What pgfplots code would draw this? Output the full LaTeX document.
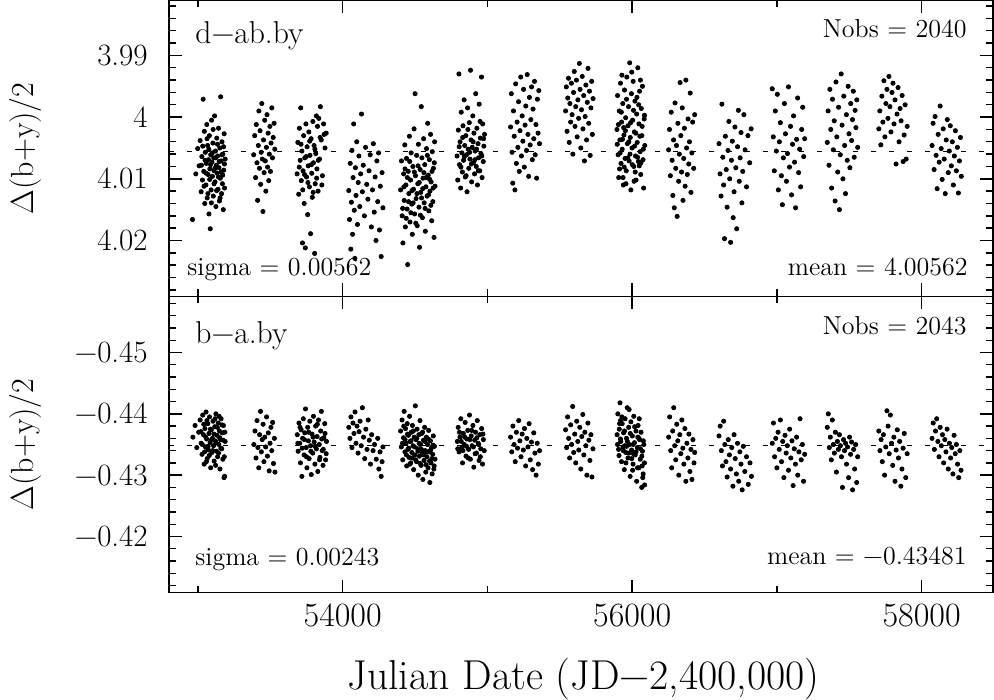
\documentclass[border=0pt]{standalone}
\usepackage{pgfplots}
\pgfplotsset{compat=1.18}
\tikzset{
  ann/.style={inner sep=0pt, font=\fontsize{13}{15}\selectfont},
  lab/.style={inner sep=0pt, font=\fontsize{15.8}{18}\selectfont},
}
\pgfplotsset{
  panel/.style={
    scale only axis, width=411.85pt, height=148pt,
    xmin=52802, xmax=58493, y dir=reverse,
    scaled x ticks=false, scaled y ticks=false,
    xtick={54000,56000,58000}, minor xtick={53000,55000,57000},
    tick align=inside, tick pos=both,
    major tick length=6.5pt, minor tick length=3.5pt,
    axis line style={line width=0.9pt},
    every tick/.style={black, line width=0.7pt},
    yticklabel style={font=\fontsize{15.5}{18}\selectfont, inner xsep=0pt, xshift=-10.6pt},
    xticklabel style={font=\fontsize{17}{20}\selectfont, inner ysep=0pt, yshift=-5.5pt},
    clip=false,
  },
  dots/.style={only marks, mark=*, mark size=1.05pt, black, mark options={draw=none, fill=black}},
  meanline/.style={black, line width=0.6pt, dash pattern=on 2.5pt off 6.5pt},
}
\begin{document}
\begin{tikzpicture}
% ---------------- top panel ----------------
\begin{axis}[panel, at={(0,148pt)}, anchor=south west,
  ymin=3.98109, ymax=4.02908,
  ytick={3.99,4,4.01,4.02}, yticklabels={3.99,4,4.01,4.02},
  minor ytick={3.982,3.984,3.986,3.988,3.992,3.994,3.996,3.998,4.002,4.004,4.006,4.008,4.012,4.014,4.016,4.018,4.022,4.024,4.026,4.028},
  xticklabels={}]
\addplot[meanline] coordinates {(52802,4.00562) (58493,4.00562)};
\addplot[dots] table {
52962 4.0166
52985 4.0092
52998 4.0051
53008 4.0079
53015 4.0038
53022 4.0121
53027 4.0064
53031 4.0102
53036 3.9971
53040 4.0088
53044 4.0023
53047 4.0140
53051 4.0057
53055 4.0110
53058 4.0075
53061 4.0012
53064 4.0131
53067 4.0046
53070 4.0093
53073 4.0069
53076 4.0157
53079 4.0030
53082 4.0084
53085 4.0181
53088 4.0061
53091 4.0118
53094 4.0005
53097 4.0073
53100 4.0096
53103 4.0042
53106 4.0128
53109 4.0066
53112 4.0087
53115 3.9998
53118 4.0105
53121 4.0055
53124 4.0145
53127 4.0078
53130 4.0034
53133 4.0091
53136 4.0063
53139 4.0117
53142 4.0018
53145 4.0082
53148 4.0136
53151 4.0050
53154 4.0099
53157 3.9967
53160 4.0071
53163 4.0124
53166 4.0040
53169 4.0108
53172 4.0060
53175 4.0150
53178 4.0086
53181 4.0027
53184 4.0115
53188 4.0068
53024 4.0078
53033 4.0047
53042 4.0112
53049 4.0070
53057 4.0091
53063 4.0035
53069 4.0124
53075 4.0052
53081 4.0101
53087 4.0077
53093 4.0139
53099 4.0058
53105 4.0020
53111 4.0108
53117 4.0083
53123 4.0066
53129 4.0119
53135 4.0044
53141 4.0097
53147 4.0072
53153 4.0131
53159 4.0089
53165 4.0061
53171 4.0094
53177 4.0048
53183 4.0076
53385 4.0061
53392 4.0030
53398 4.0098
53403 4.0012
53408 4.0074
53412 4.0135
53417 4.0046
53421 3.9990
53425 4.0083
53429 4.0022
53433 4.0109
53437 4.0057
53441 3.9978
53445 4.0068
53449 4.0153
53453 4.0037
53457 4.0090
53461 4.0005
53465 4.0071
53469 4.0120
53473 4.0049
53477 3.9996
53481 4.0081
53485 4.0026
53489 4.0103
53493 4.0060
53497 4.0015
53501 4.0088
53505 4.0042
53510 3.9985
53515 4.0066
53520 4.0033
53526 4.0010
53531 4.0052
53685 4.0092
53690 4.0041
53696 4.0125
53701 4.0018
53706 4.0070
53710 3.9985
53714 4.0103
53718 4.0055
53722 4.0204
53726 4.0087
53730 4.0030
53734 4.0140
53738 4.0066
53742 4.0212
53746 4.0011
53750 4.0097
53754 4.0048
53758 4.0158
53762 4.0079
53766 4.0024
53770 4.0113
53774 4.0062
53778 4.0189
53782 4.0035
53786 4.0091
53790 4.0130
53794 4.0007
53798 4.0074
53802 4.0046
53806 4.0221
53810 4.0108
53814 4.0059
53818 3.9998
53822 4.0084
53826 4.0015
53830 4.0120
53835 4.0002
53840 4.0068
53846 3.9983
53852 4.0037
53860 4.0095
53868 4.0011
53878 4.0050
53886 4.0026
53700 4.0081
53712 4.0044
53724 4.0118
53736 4.0093
53748 4.0064
53760 4.0106
53772 4.0039
53784 4.0077
53796 4.0122
53808 4.0052
53820 4.0099
53832 4.0070
53844 4.0033
53856 4.0110
53872 4.0028
54042 4.0119
54047 4.0166
54052 4.0075
54056 4.0214
54060 4.0138
54064 4.0054
54068 4.0190
54072 4.0098
54076 4.0011
54080 4.0151
54084 4.0229
54088 4.0082
54092 4.0127
54097 4.0040
54102 4.0174
54107 4.0106
54112 4.0063
54118 4.0145
54124 4.0092
54130 3.9995
54136 4.0121
54142 4.0078
54150 4.0160
54158 4.0049
54166 4.0109
54174 4.0133
54182 4.0087
54190 4.0061
54198 4.0178
54206 4.0118
54212 4.0043
54218 4.0154
54224 4.0097
54230 4.0200
54236 4.0071
54242 4.0137
54248 4.0058
54254 4.0183
54260 4.0112
54266 4.0226
54272 4.0090
54278 4.0147
54400 4.0118
54406 4.0071
54411 4.0160
54416 4.0204
54421 4.0092
54425 4.0135
54429 4.0045
54433 4.0178
54437 4.0110
54441 4.0067
54445 4.0149
54449 4.0239
54453 4.0088
54457 4.0124
54461 4.0031
54465 4.0170
54469 4.0102
54473 4.0058
54477 4.0141
54481 4.0190
54485 4.0080
54489 4.0117
54493 4.0019
54497 4.0157
54500 3.9962
54503 4.0095
54507 4.0132
54511 4.0062
54515 4.0176
54519 4.0108
54523 4.0044
54527 4.0146
54531 4.0211
54535 4.0085
54539 4.0122
54543 3.9983
54547 4.0066
54551 4.0163
54555 4.0099
54559 4.0035
54563 4.0139
54567 4.0077
54571 4.0185
54575 4.0113
54579 4.0051
54583 4.0128
54587 4.0010
54591 4.0094
54595 4.0152
54599 4.0069
54603 4.0120
54607 4.0028
54611 4.0105
54615 4.0168
54619 4.0056
54623 4.0137
54627 4.0083
54631 4.0195
54635 4.0040
54638 4.0112
54414 4.0148
54423 4.0113
54431 4.0084
54439 4.0164
54447 4.0098
54455 4.0137
54463 4.0072
54471 4.0155
54479 4.0119
54487 4.0139
54495 4.0089
54505 4.0172
54513 4.0124
54521 4.0079
54529 4.0106
54537 4.0159
54545 4.0131
54553 4.0116
54561 4.0090
54569 4.0148
54577 4.0098
54585 4.0062
54593 4.0126
54601 4.0101
54609 4.0143
54617 4.0088
54625 4.0115
54633 4.0074
54790 4.0063
54795 4.0102
54799 4.0021
54803 3.9930
54807 4.0077
54811 4.0040
54815 4.0115
54819 3.9992
54823 4.0058
54827 4.0089
54831 4.0014
54835 4.0070
54839 3.9972
54843 4.0046
54847 4.0097
54851 4.0030
54855 4.0061
54859 4.0121
54863 3.9985
54867 4.0052
54871 4.0083
54875 4.0009
54879 4.0068
54883 3.9924
54887 4.0037
54891 4.0105
54895 4.0049
54899 3.9998
54903 4.0074
54907 4.0026
54911 4.0092
54915 4.0055
54919 3.9962
54923 4.0080
54927 4.0018
54931 4.0110
54935 4.0043
54939 4.0066
54943 3.9979
54947 4.0087
54951 4.0034
54955 4.0059
54959 3.9935
54963 4.0098
54967 4.0011
54971 4.0072
54975 4.0047
54980 4.0028
54805 4.0048
54817 4.0081
54829 4.0033
54841 4.0064
54853 4.0095
54865 4.0020
54877 4.0057
54889 4.0076
54901 4.0040
54913 4.0069
54925 4.0052
54937 4.0087
54949 4.0007
54961 4.0063
54973 4.0035
55160 4.0016
55165 3.9962
55170 4.0057
55175 4.0107
55180 3.9990
55185 4.0031
55190 4.0118
55195 3.9946
55200 4.0075
55205 4.0008
55210 4.0049
55215 3.9975
55220 4.0088
55225 4.0022
55230 3.9935
55235 4.0063
55240 3.9998
55245 4.0039
55250 3.9955
55255 4.0081
55260 4.0013
55265 3.9982
55270 4.0054
55275 3.9931
55280 4.0028
55285 4.0096
55290 3.9968
55295 4.0045
55300 4.0004
55305 3.9951
55310 4.0069
55315 3.9987
55320 4.0035
55325 3.9942
55330 4.0061
55335 4.0012
55340 4.0099
55345 3.9971
55350 4.0026
55355 3.9957
55360 4.0043
55540 3.9990
55545 3.9951
55550 4.0023
55555 3.9969
55560 3.9937
55565 4.0041
55570 3.9978
55575 4.0008
55580 3.9945
55585 3.9996
55590 4.0060
55595 3.9960
55600 3.9926
55605 4.0015
55610 3.9983
55615 3.9940
55620 4.0032
55625 3.9972
55630 4.0002
55635 3.9913
55640 3.9955
55645 4.0050
55650 3.9988
55655 3.9934
55660 4.0019
55665 3.9965
55670 4.0071
55675 3.9999
55680 3.9948
55685 4.0037
55690 3.9976
55695 3.9921
55700 4.0010
55705 3.9958
55710 4.0062
55715 3.9985
55720 3.9942
55725 4.0028
55730 3.9970
55895 4.0020
55899 3.9965
55903 4.0061
55907 4.0098
55911 3.9990
55915 4.0037
55919 3.9945
55923 4.0075
55927 4.0008
55931 4.0052
55935 3.9978
55939 4.0110
55943 4.0029
55947 3.9956
55951 4.0067
55955 4.0001
55959 4.0087
55963 3.9935
55967 4.0043
55971 4.0014
55975 3.9983
55979 4.0071
55983 3.9912
55987 4.0033
55991 4.0118
55995 3.9962
55999 4.0050
56003 4.0005
56007 3.9942
56011 4.0080
56015 4.0024
56019 3.9974
56023 4.0063
56027 4.0102
56031 3.9995
56035 4.0041
56039 3.9920
56043 4.0072
56047 4.0011
56051 3.9958
56055 4.0056
56059 4.0093
56063 3.9986
56067 4.0030
56071 3.9950
56075 4.0069
56079 4.0115
56083 4.0003
56087 4.0046
55929 3.9932
55957 4.0108
55997 3.9927
56021 4.0089
56049 4.0079
55913 4.0084
55941 4.0017
55985 4.0060
56033 3.9968
55897 4.0044
55905 4.0012
55917 4.0058
55925 3.9992
55933 4.0036
55945 4.0081
55953 4.0022
55961 3.9971
55969 4.0066
55977 4.0040
55989 4.0009
56001 4.0077
56009 3.9989
56017 4.0047
56025 4.0026
56037 4.0065
56045 3.9980
56053 4.0031
56061 4.0074
56069 4.0015
56077 4.0052
56085 3.9997
55937 4.0098
56013 4.0104
56057 3.9940
56252 4.0053
56258 4.0020
56264 4.0095
56270 3.9992
56276 4.0070
56281 4.0127
56286 4.0037
56291 4.0147
56296 3.9977
56301 4.0083
56306 4.0046
56311 4.0161
56316 4.0010
56321 4.0104
56326 4.0060
56331 3.9944
56336 4.0030
56341 4.0089
56346 3.9985
56351 4.0135
56356 4.0067
56361 4.0018
56366 4.0112
56371 3.9940
56376 4.0050
56381 4.0093
56386 4.0003
56391 4.0076
56396 4.0040
56401 3.9961
56406 4.0122
56412 4.0058
56418 4.0008
56425 4.0083
56432 3.9996
56600 4.0043
56607 4.0092
56614 4.0128
56620 3.9979
56626 4.0065
56632 4.0110
56638 4.0197
56644 4.0031
56650 4.0085
56656 4.0146
56662 4.0054
56668 4.0007
56674 4.0100
56680 4.0203
56686 4.0070
56692 4.0039
56698 4.0163
56704 4.0121
56710 4.0016
56716 4.0082
56722 4.0181
56728 4.0048
56734 3.9989
56740 4.0104
56746 4.0066
56752 4.0025
56758 4.0139
56764 4.0088
56772 3.9996
56780 4.0053
56790 4.0113
56800 4.0030
56812 4.0074
56822 4.0019
56968 3.9954
56975 4.0032
56982 4.0087
56989 3.9990
56996 4.0055
57003 3.9963
57010 4.0118
57017 4.0040
57024 4.0009
57031 4.0095
57038 4.0142
57045 4.0066
57052 3.9978
57059 4.0027
57066 4.0104
57073 4.0059
57080 3.9951
57087 4.0081
57094 4.0015
57101 4.0126
57108 4.0044
57115 3.9998
57122 4.0073
57129 4.0147
57136 4.0036
57143 3.9969
57150 4.0090
57157 4.0052
57164 4.0113
57171 4.0020
57178 3.9984
57185 4.0064
57192 4.0035
57348 4.0041
57354 3.9990
57360 4.0078
57366 3.9955
57372 4.0020
57378 4.0115
57384 3.9971
57390 4.0053
57396 4.0006
57402 4.0136
57408 3.9943
57414 4.0032
57420 4.0089
57426 3.9984
57432 4.0150
57438 4.0061
57444 3.9930
57450 4.0013
57456 4.0100
57462 3.9966
57468 4.0046
57474 4.0124
57480 3.9996
57486 4.0070
57492 3.9950
57498 4.0027
57504 4.0082
57510 3.9978
57516 4.0038
57522 4.0004
57528 3.9958
57534 4.0065
57540 3.9989
57546 4.0017
57552 3.9972
57558 4.0049
57704 4.0019
57711 3.9990
57718 4.0045
57725 3.9966
57732 4.0008
57739 3.9941
57746 4.0032
57753 3.9978
57760 3.9955
57767 4.0002
57774 3.9934
57781 3.9983
57788 4.0024
57795 3.9960
57802 3.9945
57809 4.0011
57816 3.9972
57823 4.0076
57830 3.9995
57837 3.9952
57844 4.0040
57851 3.9986
57858 4.0006
57865 3.9965
57872 4.0072
57879 4.0029
57886 3.9980
57893 4.0068
57900 4.0015
58072 4.0046
58079 4.0010
58086 4.0085
58093 3.9999
58100 4.0062
58107 4.0116
58114 4.0028
58121 4.0073
58128 3.9982
58135 4.0051
58142 4.0101
58149 4.0019
58156 4.0068
58163 4.0124
58170 4.0037
58177 4.0004
58184 4.0090
58191 4.0055
58198 4.0014
58205 4.0079
58212 4.0040
58219 4.0110
58226 4.0063
58233 4.0022
58240 4.0087
58247 4.0049
58254 4.0123
58261 4.0071
58268 4.0033
58274 4.0096
};
\node[lab, anchor=base west] at (rel axis cs:0.0312,0.855) {d−ab.by};
\node[ann, anchor=base east] at (rel axis cs:0.9684,0.875) {Nobs = 2040};
\node[ann, anchor=base west] at (rel axis cs:0.0215,0.071) {sigma = 0.00562};
\node[ann, anchor=base east] at (rel axis cs:0.9696,0.071) {mean = 4.00562};
\node[rotate=90, anchor=center, inner sep=0pt, font=\fontsize{16}{18}\selectfont] at (rel axis cs:-0.174,0.5) {Δ(b+y)/2};
\end{axis}
% ---------------- bottom panel ----------------
\begin{axis}[panel, at={(0,0)}, anchor=south west,
  ymin=-0.45914, ymax=-0.41086,
  ytick={-0.45,-0.44,-0.43,-0.42}, yticklabels={−0.45,−0.44,−0.43,−0.42},
  minor ytick={-0.458,-0.456,-0.454,-0.452,-0.448,-0.446,-0.444,-0.442,-0.438,-0.436,-0.434,-0.432,-0.428,-0.426,-0.424,-0.422,-0.418,-0.416,-0.414,-0.412},
  xticklabels={54000,56000,58000}]
\addplot[meanline] coordinates {(52802,-0.43481) (58493,-0.43481)};
\addplot[dots] table {
52965 -0.4362
52980 -0.4381
52992 -0.4345
53005 -0.4370
53015 -0.4390
53022 -0.4352
53028 -0.4334
53033 -0.4398
53038 -0.4366
53043 -0.4318
53048 -0.4376
53052 -0.4346
53056 -0.4403
53060 -0.4359
53064 -0.4327
53068 -0.4384
53072 -0.4341
53076 -0.4368
53080 -0.4395
53084 -0.4353
53088 -0.4312
53092 -0.4374
53096 -0.4337
53100 -0.4360
53104 -0.4388
53108 -0.4348
53112 -0.4323
53116 -0.4379
53120 -0.4356
53124 -0.4400
53128 -0.4339
53132 -0.4365
53136 -0.4330
53140 -0.4385
53144 -0.4350
53148 -0.4372
53152 -0.4310
53156 -0.4358
53160 -0.4392
53164 -0.4343
53168 -0.4369
53172 -0.4326
53176 -0.4381
53180 -0.4296
53184 -0.4298
53188 -0.4355
53020 -0.4371
53030 -0.4350
53040 -0.4383
53046 -0.4338
53054 -0.4362
53062 -0.4389
53070 -0.4347
53078 -0.4332
53086 -0.4375
53094 -0.4358
53102 -0.4340
53110 -0.4367
53118 -0.4392
53126 -0.4353
53134 -0.4378
53142 -0.4336
53150 -0.4361
53158 -0.4344
53166 -0.4382
53174 -0.4357
53182 -0.4330
53186 -0.4370
53058 -0.4322
53122 -0.4316
53146 -0.4396
53386 -0.4350
53394 -0.4372
53401 -0.4328
53408 -0.4389
53414 -0.4345
53420 -0.4312
53426 -0.4366
53432 -0.4404
53438 -0.4338
53444 -0.4358
53450 -0.4383
53456 -0.4322
53462 -0.4362
53468 -0.4346
53474 -0.4395
53480 -0.4331
53486 -0.4369
53492 -0.4307
53498 -0.4352
53504 -0.4378
53510 -0.4340
53516 -0.4386
53522 -0.4319
53528 -0.4360
53532 -0.4305
53686 -0.4366
53692 -0.4339
53698 -0.4385
53703 -0.4352
53708 -0.4320
53713 -0.4374
53718 -0.4298
53723 -0.4360
53728 -0.4392
53733 -0.4333
53738 -0.4369
53743 -0.4408
53748 -0.4345
53753 -0.4312
53758 -0.4378
53763 -0.4356
53768 -0.4327
53773 -0.4388
53778 -0.4348
53783 -0.4301
53788 -0.4367
53793 -0.4336
53798 -0.4396
53803 -0.4354
53808 -0.4318
53813 -0.4380
53818 -0.4343
53823 -0.4363
53828 -0.4306
53833 -0.4390
53838 -0.4350
53843 -0.4329
53848 -0.4372
53853 -0.4404
53858 -0.4340
53864 -0.4316
53870 -0.4361
53876 -0.4384
53882 -0.4325
53888 -0.4355
53690 -0.4352
53705 -0.4378
53720 -0.4344
53735 -0.4358
53750 -0.4330
53765 -0.4370
53780 -0.4339
53795 -0.4362
53810 -0.4347
53825 -0.4383
53840 -0.4325
53855 -0.4359
53866 -0.4342
53878 -0.4368
53886 -0.4335
54042 -0.4378
54050 -0.4360
54057 -0.4395
54064 -0.4345
54071 -0.4385
54078 -0.4368
54085 -0.4403
54092 -0.4352
54099 -0.4380
54106 -0.4336
54113 -0.4371
54120 -0.4388
54128 -0.4348
54136 -0.4410
54144 -0.4362
54152 -0.4327
54160 -0.4375
54168 -0.4342
54176 -0.4390
54184 -0.4357
54192 -0.4318
54200 -0.4366
54210 -0.4340
54220 -0.4350
54232 -0.4326
54242 -0.4360
54250 -0.4310
54258 -0.4338
54266 -0.4298
54272 -0.4322
54278 -0.4346
54400 -0.4372
54405 -0.4346
54410 -0.4390
54415 -0.4325
54420 -0.4361
54425 -0.4404
54430 -0.4338
54434 -0.4376
54438 -0.4352
54442 -0.4315
54446 -0.4384
54450 -0.4342
54454 -0.4365
54458 -0.4329
54462 -0.4396
54466 -0.4355
54470 -0.4320
54474 -0.4370
54478 -0.4337
54482 -0.4381
54486 -0.4348
54490 -0.4309
54494 -0.4362
54498 -0.4333
54502 -0.4413
54506 -0.4358
54510 -0.4322
54514 -0.4375
54518 -0.4343
54522 -0.4300
54526 -0.4366
54530 -0.4331
54534 -0.4389
54538 -0.4350
54542 -0.4316
54546 -0.4368
54550 -0.4336
54554 -0.4293
54558 -0.4357
54562 -0.4324
54566 -0.4378
54570 -0.4340
54574 -0.4305
54578 -0.4362
54582 -0.4330
54586 -0.4350
54590 -0.4312
54594 -0.4373
54598 -0.4338
54602 -0.4288
54606 -0.4356
54610 -0.4320
54614 -0.4345
54618 -0.4302
54622 -0.4334
54626 -0.4364
54630 -0.4310
54634 -0.4347
54638 -0.4326
54413 -0.4352
54422 -0.4380
54431 -0.4358
54440 -0.4333
54448 -0.4367
54456 -0.4344
54464 -0.4318
54472 -0.4356
54480 -0.4328
54488 -0.4372
54496 -0.4346
54504 -0.4325
54512 -0.4360
54520 -0.4339
54528 -0.4352
54536 -0.4319
54544 -0.4342
54552 -0.4370
54560 -0.4333
54568 -0.4355
54576 -0.4317
54584 -0.4338
54592 -0.4359
54600 -0.4323
54608 -0.4341
54616 -0.4327
54624 -0.4349
54632 -0.4315
54792 -0.4355
54798 -0.4378
54804 -0.4338
54810 -0.4362
54816 -0.4392
54822 -0.4345
54828 -0.4320
54834 -0.4368
54840 -0.4350
54846 -0.4386
54852 -0.4331
54858 -0.4359
54864 -0.4373
54870 -0.4342
54876 -0.4398
54882 -0.4326
54888 -0.4364
54894 -0.4348
54900 -0.4381
54906 -0.4313
54912 -0.4357
54918 -0.4370
54924 -0.4336
54930 -0.4389
54936 -0.4352
54942 -0.4324
54948 -0.4366
54954 -0.4343
54960 -0.4376
54966 -0.4318
54972 -0.4358
54978 -0.4340
54795 -0.4343
54807 -0.4370
54819 -0.4355
54831 -0.4340
54843 -0.4362
54855 -0.4347
54867 -0.4328
54879 -0.4358
54891 -0.4373
54903 -0.4346
54915 -0.4335
54927 -0.4361
54939 -0.4350
54951 -0.4330
54969 -0.4367
55160 -0.4362
55168 -0.4338
55176 -0.4380
55184 -0.4350
55192 -0.4322
55200 -0.4370
55208 -0.4344
55216 -0.4389
55224 -0.4356
55232 -0.4330
55240 -0.4367
55248 -0.4341
55256 -0.4376
55264 -0.4315
55272 -0.4360
55280 -0.4346
55288 -0.4384
55296 -0.4325
55304 -0.4354
55312 -0.4309
55320 -0.4369
55328 -0.4336
55336 -0.4300
55344 -0.4352
55352 -0.4318
55360 -0.4340
55540 -0.4374
55547 -0.4345
55554 -0.4395
55561 -0.4360
55568 -0.4328
55575 -0.4382
55582 -0.4350
55589 -0.4412
55596 -0.4337
55603 -0.4367
55610 -0.4320
55617 -0.4388
55624 -0.4355
55631 -0.4341
55638 -0.4378
55645 -0.4310
55652 -0.4363
55659 -0.4399
55666 -0.4333
55673 -0.4370
55680 -0.4348
55687 -0.4300
55694 -0.4385
55701 -0.4357
55708 -0.4324
55715 -0.4366
55722 -0.4297
55729 -0.4343
55896 -0.4366
55901 -0.4400
55906 -0.4342
55911 -0.4375
55916 -0.4418
55921 -0.4355
55926 -0.4322
55931 -0.4384
55936 -0.4346
55941 -0.4369
55946 -0.4309
55951 -0.4392
55956 -0.4337
55961 -0.4360
55966 -0.4410
55971 -0.4328
55976 -0.4378
55981 -0.4350
55986 -0.4298
55991 -0.4387
55996 -0.4341
56001 -0.4364
56006 -0.4318
56011 -0.4396
56016 -0.4353
56021 -0.4333
56026 -0.4372
56031 -0.4290
56036 -0.4345
56041 -0.4381
56046 -0.4312
56051 -0.4358
56056 -0.4326
56061 -0.4370
56066 -0.4280
56071 -0.4339
56076 -0.4302
56081 -0.4350
56086 -0.4284
55919 -0.4389
55949 -0.4348
55979 -0.4407
56009 -0.4335
56039 -0.4362
56069 -0.4315
55899 -0.4350
55909 -0.4332
55919 -0.4359
55929 -0.4395
55939 -0.4340
55947 -0.4372
55957 -0.4320
55967 -0.4355
55977 -0.4336
55987 -0.4368
55997 -0.4327
56007 -0.4350
56017 -0.4379
56027 -0.4338
56037 -0.4312
56047 -0.4360
56057 -0.4343
56067 -0.4331
56077 -0.4356
56085 -0.4320
55913 -0.4384
55961 -0.4347
56003 -0.4308
56049 -0.4392
56073 -0.4296
56252 -0.4362
56259 -0.4395
56266 -0.4340
56273 -0.4312
56280 -0.4372
56287 -0.4410
56294 -0.4348
56301 -0.4325
56308 -0.4383
56315 -0.4356
56322 -0.4300
56329 -0.4366
56336 -0.4335
56343 -0.4390
56350 -0.4344
56357 -0.4318
56364 -0.4376
56371 -0.4290
56378 -0.4352
56385 -0.4328
56392 -0.4367
56399 -0.4306
56406 -0.4342
56413 -0.4293
56420 -0.4358
56427 -0.4320
56432 -0.4337
56600 -0.4364
56608 -0.4380
56616 -0.4340
56624 -0.4315
56632 -0.4388
56640 -0.4350
56648 -0.4322
56656 -0.4297
56664 -0.4358
56672 -0.4333
56680 -0.4310
56688 -0.4345
56696 -0.4282
56704 -0.4366
56712 -0.4327
56720 -0.4302
56728 -0.4352
56736 -0.4290
56744 -0.4338
56752 -0.4318
56760 -0.4276
56768 -0.4347
56778 -0.4306
56790 -0.4330
56802 -0.4285
56814 -0.4320
56824 -0.4298
56968 -0.4352
56976 -0.4385
56984 -0.4330
56992 -0.4360
57000 -0.4312
57008 -0.4370
57016 -0.4342
57024 -0.4390
57032 -0.4322
57040 -0.4355
57048 -0.4296
57056 -0.4365
57064 -0.4336
57072 -0.4348
57080 -0.4308
57088 -0.4375
57096 -0.4328
57104 -0.4356
57112 -0.4283
57120 -0.4343
57128 -0.4318
57136 -0.4362
57144 -0.4300
57152 -0.4338
57160 -0.4392
57168 -0.4325
57176 -0.4350
57184 -0.4290
57192 -0.4334
57348 -0.4378
57355 -0.4400
57362 -0.4345
57369 -0.4362
57376 -0.4325
57383 -0.4390
57390 -0.4350
57397 -0.4336
57404 -0.4370
57411 -0.4305
57418 -0.4355
57425 -0.4342
57432 -0.4366
57439 -0.4348
57446 -0.4330
57453 -0.4280
57460 -0.4358
57467 -0.4340
57474 -0.4352
57481 -0.4318
57488 -0.4346
57495 -0.4296
57502 -0.4362
57509 -0.4334
57516 -0.4354
57523 -0.4276
57530 -0.4342
57537 -0.4310
57544 -0.4350
57551 -0.4288
57558 -0.4330
57704 -0.4372
57712 -0.4340
57720 -0.4358
57728 -0.4322
57736 -0.4366
57744 -0.4300
57752 -0.4346
57760 -0.4405
57768 -0.4380
57776 -0.4335
57784 -0.4398
57792 -0.4352
57800 -0.4316
57808 -0.4362
57816 -0.4290
57824 -0.4341
57832 -0.4374
57840 -0.4328
57848 -0.4355
57856 -0.4282
57864 -0.4310
57872 -0.4344
57880 -0.4368
57890 -0.4296
57900 -0.4335
58072 -0.4360
58080 -0.4385
58088 -0.4342
58096 -0.4372
58104 -0.4392
58112 -0.4355
58120 -0.4330
58128 -0.4378
58136 -0.4348
58144 -0.4366
58152 -0.4320
58160 -0.4358
58168 -0.4338
58176 -0.4375
58184 -0.4310
58192 -0.4352
58200 -0.4328
58208 -0.4345
58216 -0.4302
58224 -0.4365
58232 -0.4335
58240 -0.4350
58248 -0.4318
58256 -0.4296
58264 -0.4340
58272 -0.4308
};
\node[lab, anchor=base west] at (rel axis cs:0.0312,0.841) {b−a.by};
\node[ann, anchor=base east] at (rel axis cs:0.9684,0.872) {Nobs = 2043};
\node[ann, anchor=base west] at (rel axis cs:0.0312,0.091) {sigma = 0.00243};
\node[ann, anchor=base east] at (rel axis cs:0.9684,0.095) {mean = −0.43481};
\node[rotate=90, anchor=center, inner sep=0pt, font=\fontsize{16}{18}\selectfont] at (rel axis cs:-0.174,0.5) {Δ(b+y)/2};
\node[anchor=base, inner sep=0pt, font=\fontsize{20.9}{24}\selectfont] at (rel axis cs:0.503,0) [yshift=-48.5pt] {Julian Date (JD−2,400,000)};
\end{axis}
\pgfresetboundingbox
\path[use as bounding box] (-84.65pt,-53.5pt) rectangle (412.35pt,296.25pt);
\end{tikzpicture}
\end{document}
